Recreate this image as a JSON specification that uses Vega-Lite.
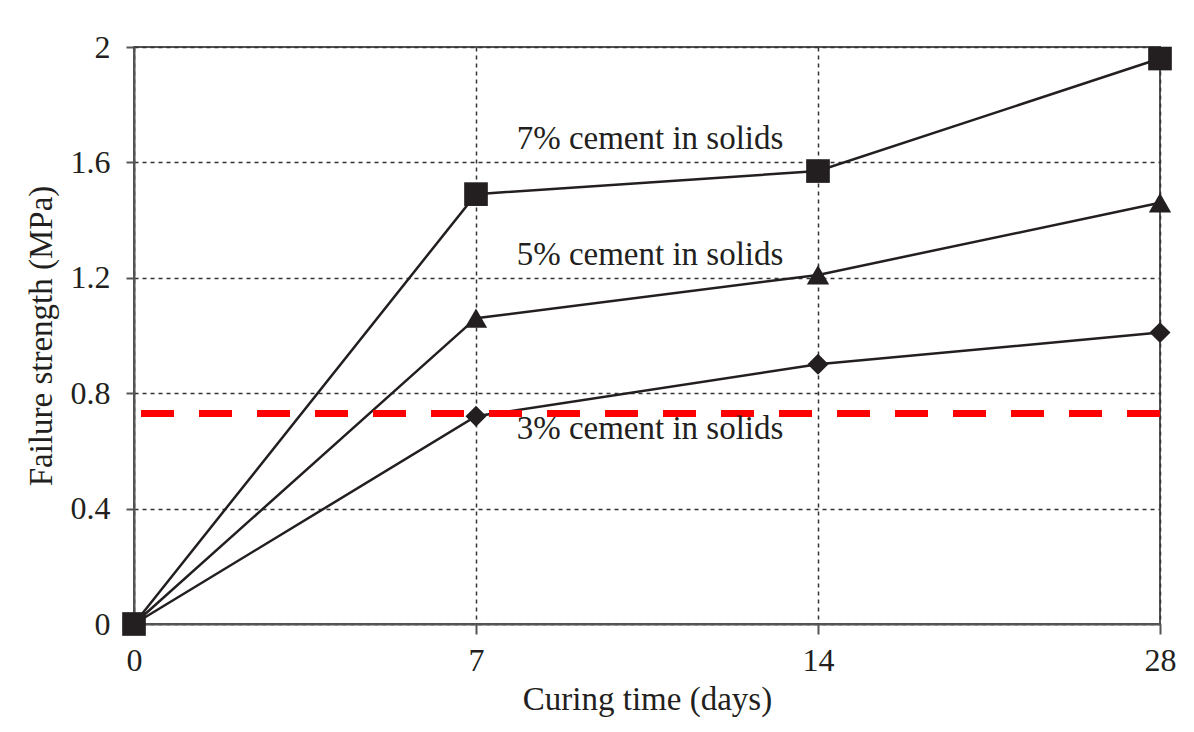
{
  "$schema": "https://vega.github.io/schema/vega-lite/v6.json",
  "width": 1026,
  "height": 577,
  "autosize": {"type": "none"},
  "padding": {"left": 134, "top": 47, "right": 34, "bottom": 108},
  "background": "white",
  "config": {
    "view": {"stroke": "#555555", "strokeWidth": 2},
    "font": "Liberation Serif",
    "axis": {
      "grid": true,
      "gridDash": [4, 4],
      "gridColor": "#333333",
      "gridWidth": 1.5,
      "domainColor": "#555555",
      "domainWidth": 2,
      "tickColor": "#555555",
      "tickWidth": 2,
      "labelFont": "Liberation Serif",
      "labelFontSize": 32,
      "labelColor": "#231f20",
      "titleFont": "Liberation Serif",
      "titleFontSize": 33,
      "titleFontWeight": "normal",
      "titleColor": "#231f20"
    }
  },
  "datasets": {
    "strength": [
      {"series": "3%", "day": 0, "strength": 0},
      {"series": "3%", "day": 7, "strength": 0.72},
      {"series": "3%", "day": 14, "strength": 0.90},
      {"series": "3%", "day": 28, "strength": 1.01},
      {"series": "5%", "day": 0, "strength": 0},
      {"series": "5%", "day": 7, "strength": 1.06},
      {"series": "5%", "day": 14, "strength": 1.21},
      {"series": "5%", "day": 28, "strength": 1.46},
      {"series": "7%", "day": 0, "strength": 0},
      {"series": "7%", "day": 7, "strength": 1.49},
      {"series": "7%", "day": 14, "strength": 1.57},
      {"series": "7%", "day": 28, "strength": 1.96}
    ],
    "labels": [
      {"label": "7% cement in solids", "day": 7, "strength": 1.646},
      {"label": "5% cement in solids", "day": 7, "strength": 1.244},
      {"label": "3% cement in solids", "day": 7, "strength": 0.641}
    ],
    "threshold": [{"strength": 0.73}]
  },
  "layer": [
    {
      "data": {"name": "strength"},
      "mark": {"type": "line", "color": "#231f20", "strokeWidth": 2.5},
      "encoding": {
        "x": {
          "field": "day",
          "type": "ordinal",
          "scale": {"type": "point", "domain": [0, 7, 14, 28], "padding": 0},
          "axis": {
            "title": "Curing time (days)",
            "labelAngle": 0,
            "tickSize": 10,
            "labelPadding": 11,
            "titlePadding": 7
          }
        },
        "y": {
          "field": "strength",
          "type": "quantitative",
          "scale": {"domain": [0, 2], "nice": false},
          "axis": {
            "title": "Failure strength (MPa)",
            "values": [0, 0.4, 0.8, 1.2, 1.6, 2],
            "format": "~g",
            "tickSize": 8,
            "labelPadding": 16,
            "titlePadding": 12
          }
        },
        "detail": {"field": "series", "type": "nominal"}
      }
    },
    {
      "data": {"name": "threshold"},
      "mark": {"type": "rule", "color": "#ff0000", "strokeWidth": 7, "strokeDash": [33, 25]},
      "encoding": {
        "y": {"field": "strength", "type": "quantitative"}
      }
    },
    {
      "data": {"name": "strength"},
      "mark": {"type": "point", "filled": true, "opacity": 1, "color": "#231f20", "strokeWidth": 0},
      "encoding": {
        "x": {"field": "day", "type": "ordinal"},
        "y": {"field": "strength", "type": "quantitative"},
        "shape": {
          "field": "series",
          "type": "nominal",
          "scale": {"domain": ["3%", "5%", "7%"], "range": ["diamond", "triangle-up", "square"]},
          "legend": null
        },
        "size": {
          "field": "series",
          "type": "ordinal",
          "scale": {"domain": ["3%", "5%", "7%"], "range": [440, 560, 700]},
          "legend": null
        }
      }
    },
    {
      "data": {"name": "labels"},
      "mark": {
        "type": "text",
        "font": "Liberation Serif",
        "fontSize": 33,
        "color": "#231f20",
        "align": "center",
        "baseline": "alphabetic",
        "dx": 174
      },
      "encoding": {
        "x": {"field": "day", "type": "ordinal"},
        "y": {"field": "strength", "type": "quantitative"},
        "text": {"field": "label", "type": "nominal"}
      }
    }
  ]
}
